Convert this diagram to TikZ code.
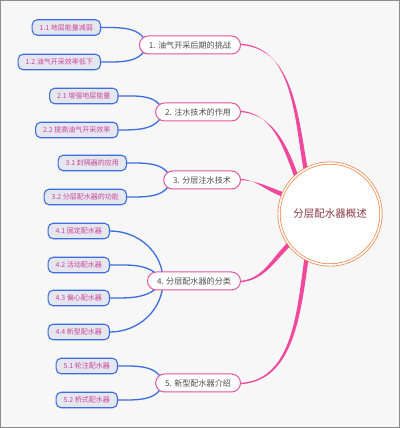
\documentclass[tikz,border=0pt]{standalone}
\usepackage{fontspec}
\newfontfamily\cjk{Noto Sans CJK SC}
\definecolor{hotpink}{HTML}{F0489C}
\definecolor{lvlpink}{HTML}{E2559F}
\definecolor{lvlblue}{HTML}{3D6EE0}
\definecolor{lvlfill}{HTML}{E6E6EF}
\definecolor{leaftext}{HTML}{C8449A}
\definecolor{ringorange}{HTML}{EE7D3B}
\definecolor{roottext}{HTML}{8B3A48}
\pgfdeclarelayer{bg}
\pgfdeclarelayer{lines}
\pgfsetlayers{bg,lines,main}
\begin{document}
\begin{tikzpicture}[x=1pt,y=1pt,
  topic/.style={draw=lvlpink, line width=1pt, fill=white, rounded corners=9pt,
    minimum height=18pt, inner xsep=9.5pt, inner ysep=0pt, anchor=east,
    font=\cjk\fontsize{8.1}{9}\selectfont, text=black!70},
  leaf/.style={draw=lvlblue, line width=1.1pt, fill=lvlfill, rounded corners=5pt,
    minimum height=15.5pt, inner xsep=7.5pt, inner ysep=0pt, anchor=east,
    font=\cjk\fontsize{7}{8}\selectfont, text=leaftext},
  twig/.style={draw=lvlblue, line width=1.3pt},
  branch/.style={fill=hotpink}]
\useasboundingbox (0,0) rectangle (400,428);
\begin{pgfonlayer}{bg}
\fill[black!3] (0,0) rectangle (400,428);
\draw[black!45, line width=1pt] (0.5,0.5) rectangle (399.5,427.5);
\end{pgfonlayer}
% centre
\node (root) [circle, draw=ringorange, double=white, double distance=1.6pt, line width=0.7pt,
  fill=white, minimum size=102pt, font=\cjk\fontsize{10.5}{12}\selectfont, text=roottext] at (330,214) {分层配水器概述};
% first level
\node (b1) [topic] at (241,383) {1. 油气开采后期的挑战};
\node (b2) [topic] at (241,316) {2. 注水技术的作用};
\node (b3) [topic] at (241,248) {3. 分层注水技术};
\node (b4) [topic] at (241,147) {4. 分层配水器的分类};
\node (b5) [topic] at (241,45) {5. 新型配水器介绍};
% second level
\node (c11) [leaf] at (101,400.5) {1.1 地层能量减弱};
\node (c12) [leaf] at (101,366) {1.2 油气开采效率低下};
\node (c21) [leaf] at (118.5,332) {2.1 增强地层能量};
\node (c22) [leaf] at (118.5,298) {2.2 提高油气开采效率};
\node (c31) [leaf] at (127,265) {3.1 封隔器的应用};
\node (c32) [leaf] at (127,231) {3.2 分层配水器的功能};
\node (c41) [leaf] at (110,197) {4.1 固定配水器};
\node (c42) [leaf] at (110,163) {4.2 活动配水器};
\node (c43) [leaf] at (110,130) {4.3 偏心配水器};
\node (c44) [leaf] at (110,96) {4.4 新型配水器};
\node (c51) [leaf] at (118,62) {5.1 轮注配水器};
\node (c52) [leaf] at (118,28) {5.2 桥式配水器};
\begin{pgfonlayer}{lines}
% pink branches, thicker at the centre
\fill[branch] ([xshift=-4pt]b1.east) to[out=0,in=100] (root.116) -- (root.121) to[out=100,in=0] ([xshift=-4pt,yshift=1.3pt]b1.east) -- cycle;
\fill[branch] ([xshift=-4pt]b2.east) to[out=0,in=110] (root.129) -- (root.134) to[out=110,in=0] ([xshift=-4pt,yshift=1.3pt]b2.east) -- cycle;
\fill[branch] ([xshift=-4pt]b3.east) to[out=0,in=160] (root.155) -- (root.160) to[out=160,in=0] ([xshift=-4pt,yshift=1.3pt]b3.east) -- cycle;
\fill[branch] ([xshift=-4pt]b4.east) to[out=0,in=225] (root.214) -- (root.219) to[out=225,in=0] ([xshift=-4pt,yshift=-1.3pt]b4.east) -- cycle;
\fill[branch] ([xshift=-4pt]b5.east) to[out=0,in=262] (root.240) -- (root.245) to[out=262,in=0] ([xshift=-4pt,yshift=-1.3pt]b5.east) -- cycle;
% blue twigs
\draw[twig] (c11.east) to[out=0,in=105] ([xshift=8pt]b1.west);
\draw[twig] (c12.east) to[out=0,in=255] ([xshift=8pt]b1.west);
\draw[twig] (c21.east) to[out=0,in=105] ([xshift=8pt]b2.west);
\draw[twig] (c22.east) to[out=0,in=255] ([xshift=8pt]b2.west);
\draw[twig] (c31.east) to[out=0,in=105] ([xshift=8pt]b3.west);
\draw[twig] (c32.east) to[out=0,in=255] ([xshift=8pt]b3.west);
\draw[twig] (c41.east) to[out=0,in=90] ([xshift=16pt]b4.west);
\draw[twig] (c42.east) to[out=0,in=125] ([xshift=16pt]b4.west);
\draw[twig] (c43.east) to[out=0,in=235] ([xshift=16pt]b4.west);
\draw[twig] (c44.east) to[out=0,in=270] ([xshift=16pt]b4.west);
\draw[twig] (c51.east) to[out=0,in=105] ([xshift=8pt]b5.west);
\draw[twig] (c52.east) to[out=0,in=255] ([xshift=8pt]b5.west);
\end{pgfonlayer}
\end{tikzpicture}
\end{document}
